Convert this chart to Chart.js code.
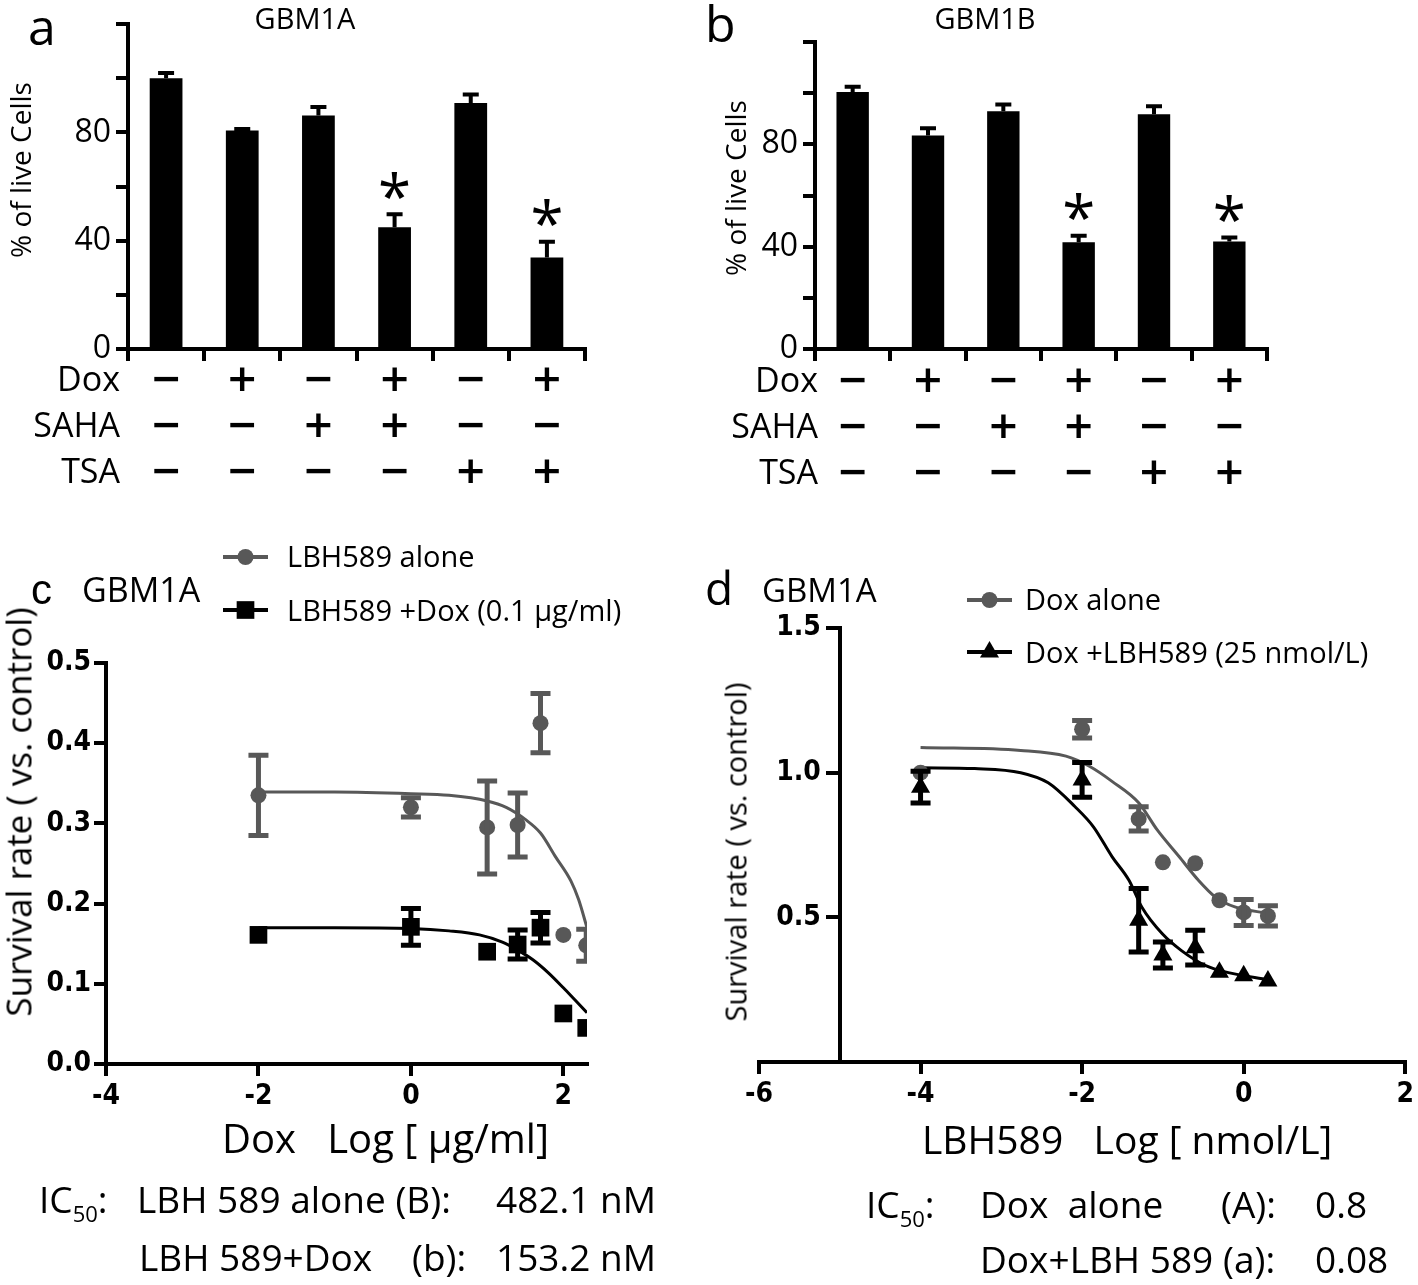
<!DOCTYPE html>
<html>
<head>
<meta charset="utf-8">
<script src="https://cdn.jsdelivr.net/npm/chart.js@4.4.1/dist/chart.umd.min.js"></script>
<style>
  html, body { margin: 0; padding: 0; background: #fff; }
  #page { position: relative; width: 1418px; height: 1285px; overflow: hidden; background: #fff; }
  canvas { position: absolute; left: 0; top: 0; }
  .t { position: absolute; font-family: 'Open Sans', sans-serif; line-height: 1; white-space: pre; color: #000; }
  .sub { font-size: 22px; position: relative; top: 9px; }
</style>
</head>
<body>
<div id="page">
  <canvas id="chartA" width="1418" height="1285"></canvas>
  <canvas id="chartB" width="1418" height="1285"></canvas>
  <canvas id="chartC" width="1418" height="1285"></canvas>
  <canvas id="chartD" width="1418" height="1285"></canvas>
</div>
<script>
// ---- panels a / b : % of live cells ----
const groups = ['G1', 'G2', 'G3', 'G4', 'G5', 'G6'];
const doxOn  = [0, 1, 0, 1, 0, 1];
const sahaOn = [0, 0, 1, 1, 0, 0];
const tsaOn  = [0, 0, 0, 0, 1, 1];
const gbm1aLive = [100, 80.7, 86.3, 45.0, 90.9, 33.8];
const gbm1aErr  = [2.0, 0.6, 3.1, 4.8, 3.1, 5.8];
const gbm1aStar = [0, 0, 0, 1, 0, 1];
const gbm1bLive = [100.5, 83.5, 92.9, 41.7, 91.8, 42.0];
const gbm1bErr  = [2.0, 2.8, 2.7, 2.6, 3.1, 1.6];
const gbm1bStar = [0, 0, 0, 1, 0, 1];
const liveTicks = [0, 20, 40, 60, 80, 100, 120];
const liveTickLabels = ['0', '', '40', '', '80', '', ''];

// ---- panel c : LBH589 dose response ----
const lbhLogDose  = [-2, 0, 1, 1.4, 1.7, 2, 2.3];
const lbhAlone    = [0.335, 0.320, 0.295, 0.298, 0.425, 0.161, 0.148];
const lbhAloneSem = [0.050, 0.012, 0.058, 0.040, 0.037, 0, 0.020];
const lbhDox      = [0.161, 0.171, 0.140, 0.149, 0.170, 0.063, 0.045];
const lbhDoxSem   = [0, 0.023, 0, 0.018, 0.019, 0, 0];
const lbhAloneFitX = [-2, -1, 0, 0.5, 1, 1.25, 1.5, 1.7, 1.9, 2.1, 2.2, 2.31];
const lbhAloneFitY = [0.339, 0.339, 0.337, 0.335, 0.328, 0.320, 0.305, 0.288, 0.258, 0.228, 0.205, 0.170];
const lbhDoxFitX = [-2, -1, 0, 0.5, 0.9, 1.2, 1.4, 1.6, 1.8, 2.0, 2.15, 2.31];
const lbhDoxFitY = [0.170, 0.170, 0.169, 0.166, 0.161, 0.152, 0.142, 0.130, 0.114, 0.095, 0.080, 0.064];
const cXTicks = [-4, -2, 0, 2];
const cXTickLabels = ['-4', '-2', '0', '2'];
const cYTicks = [0, 0.1, 0.2, 0.3, 0.4, 0.5];
const cYTickLabels = ['0.0', '0.1', '0.2', '0.3', '0.4', '0.5'];

// ---- panel d : Dox dose response ----
const doxLogDose  = [-4, -2, -1.3, -1, -0.6, -0.3, 0, 0.3];
const doxAlone    = [1.00, 1.15, 0.84, 0.69, 0.687, 0.559, 0.517, 0.505];
const doxAloneSem = [0, 0.03, 0.042, 0, 0, 0, 0.045, 0.035];
const doxLbh      = [0.95, 0.975, 0.49, 0.37, 0.395, 0.31, 0.298, 0.28];
const doxLbhSem   = [0.055, 0.06, 0.11, 0.045, 0.06, 0, 0, 0];
const doxAloneFitX = [-4, -2.76, -2.2, -1.91, -1.63, -1.3, -1.07, -0.8, -0.56, -0.35, -0.1, 0.3];
const doxAloneFitY = [1.087, 1.077, 1.057, 1.022, 0.970, 0.896, 0.802, 0.710, 0.628, 0.570, 0.535, 0.514];
const doxLbhFitX = [-4, -3.33, -2.76, -2.42, -2.09, -1.86, -1.63, -1.42, -1.26, -1.01, -0.77, -0.47, -0.19, 0.3];
const doxLbhFitY = [1.017, 1.014, 1.000, 0.965, 0.883, 0.813, 0.710, 0.628, 0.535, 0.444, 0.385, 0.333, 0.309, 0.285];
const dXTicks = [-6, -4, -2, 0, 2];
const dXTickLabels = ['-6', '-4', '-2', '0', '2'];
const dYTicks = [0.5, 1.0, 1.5];
const dYTickLabels = ['0.5', '1.0', '1.5'];

const W = 1418, H = 1285;
const GRAY = '#585858';
const tickFont = { family: "'Liberation Sans Narrow', 'Arial Narrow', 'DejaVu Sans Condensed', sans-serif", size: 28, weight: 'bold' };
const zip = (xs, ys) => xs.map((x, i) => ({ x: x, y: ys[i] }));

// error bars from dataset.errors, placed with the chart's own scales
const errorBars = {
  id: 'errorBars',
  afterDatasetsDraw(chart, args, opts) {
    const { ctx, chartArea } = chart;
    const ys = chart.scales.y;
    chart.data.datasets.forEach((ds, di) => {
      if (!ds.errors) return;
      const meta = chart.getDatasetMeta(di);
      ctx.save();
      ctx.beginPath();
      ctx.rect(chartArea.left, 0, chartArea.right - chartArea.left, H);
      ctx.clip();
      ctx.strokeStyle = ds.errorColor || '#000';
      ctx.lineWidth = opts.width;
      ds.errors.forEach((e, i) => {
        if (!e) return;
        const d = ds.data[i];
        const v = typeof d === 'object' ? d.y : d;
        const x = meta.data[i].x;
        const top = ys.getPixelForValue(v + e);
        const bot = ys.getPixelForValue(opts.upperOnly ? v : v - e);
        ctx.beginPath();
        ctx.moveTo(x, top); ctx.lineTo(x, bot);
        ctx.moveTo(x - opts.cap / 2, top); ctx.lineTo(x + opts.cap / 2, top);
        if (!opts.upperOnly) { ctx.moveTo(x - opts.cap / 2, bot); ctx.lineTo(x + opts.cap / 2, bot); }
        ctx.stroke();
      });
      ctx.restore();
    });
  }
};

function centeredText(ctx, s, x, y) {
  const m = ctx.measureText(s);
  ctx.fillText(s, x, y + (m.actualBoundingBoxAscent - m.actualBoundingBoxDescent) / 2);
}

// +/- rows under the bars and significance stars
const signRows = {
  id: 'signRows',
  afterDraw(chart, args, opts) {
    const { ctx } = chart;
    const xs = chart.scales.x, ys = chart.scales.y;
    const ds = chart.data.datasets[0];
    ctx.save();
    ctx.fillStyle = '#000';
    ctx.textAlign = 'center';
    ctx.textBaseline = 'alphabetic';
    ctx.font = 'bold 38px "DejaVu Sans"';
    [doxOn, sahaOn, tsaOn].forEach((row, r) => {
      row.forEach((on, i) => centeredText(ctx, on ? '+' : '\u2212', xs.getPixelForValue(i), opts.rowY[r]));
    });
    ctx.font = '60px "Open Sans"';
    opts.stars.forEach((s, i) => {
      if (!s) return;
      const y = ys.getPixelForValue(ds.data[i] + ds.errors[i]) - 29;
      centeredText(ctx, '*', xs.getPixelForValue(i), y);
    });
    ctx.restore();
  }
};

function drawMarker(ctx, style, r, x, y) {
  ctx.beginPath();
  if (style === 'rect') {
    const s = r * Math.SQRT1_2;
    ctx.rect(x - s, y - s, 2 * s, 2 * s);
  } else if (style === 'triangle') {
    ctx.moveTo(x, y - r);
    ctx.lineTo(x + r * 0.866, y + r / 2);
    ctx.lineTo(x - r * 0.866, y + r / 2);
    ctx.closePath();
  } else {
    ctx.arc(x, y, r, 0, Math.PI * 2);
  }
  ctx.fill();
}

// legend swatches (line + marker) beside the html legend text
const legendMarks = {
  id: 'legendMarks',
  afterDraw(chart, args, opts) {
    if (!opts.items) return;
    const { ctx } = chart;
    opts.items.forEach(it => {
      const ds = chart.data.datasets[it.dataset];
      ctx.save();
      ctx.strokeStyle = ds.borderColor;
      ctx.fillStyle = ds.backgroundColor;
      ctx.lineWidth = 4;
      ctx.beginPath();
      ctx.moveTo(opts.x1, it.y); ctx.lineTo(opts.x2, it.y);
      ctx.stroke();
      drawMarker(ctx, ds.pointStyle, ds.pointRadius, (opts.x1 + opts.x2) / 2, it.y);
      ctx.restore();
    });
  }
};

const axisGrid = { drawOnChartArea: false, color: '#000', lineWidth: 4, tickLength: 12 };
const axisBorder = { color: '#000', width: 4 };

function livePanel(id, area, values, errs, stars, rowY) {
  return new Chart(document.getElementById(id), {
    type: 'bar',
    data: {
      labels: groups,
      datasets: [{ data: values, errors: errs, backgroundColor: '#000', barPercentage: 0.43, categoryPercentage: 1 }]
    },
    options: {
      responsive: false, animation: false, devicePixelRatio: 1,
      layout: { padding: { left: 0, top: area.top, right: W - area.right, bottom: H - area.bottom - 12 } },
      plugins: {
        legend: { display: false }, tooltip: { enabled: false },
        errorBars: { width: 4, cap: 16, upperOnly: true },
        signRows: { rowY: rowY, stars: stars }
      },
      scales: {
        x: {
          grid: Object.assign({ offset: true }, axisGrid), border: axisBorder,
          ticks: { display: false },
          afterFit: s => { s.height = 12; }
        },
        y: {
          min: 0, max: 120,
          afterBuildTicks: s => { s.ticks = liveTicks.map(v => ({ value: v })); },
          ticks: { callback: (v, i) => liveTickLabels[i], color: '#000', padding: 5, font: { family: "'Open Sans', sans-serif", size: 32 } },
          grid: axisGrid, border: axisBorder,
          afterFit: s => { s.width = area.left; }
        }
      }
    },
    plugins: [errorBars, signRows]
  });
}

livePanel('chartA', { left: 128, top: 22, right: 585, bottom: 349 }, gbm1aLive, gbm1aErr, gbm1aStar, [379, 425, 471]);
livePanel('chartB', { left: 815, top: 42, right: 1267, bottom: 349 }, gbm1bLive, gbm1bErr, gbm1bStar, [380, 426, 472]);

function dosePanel(id, area, cfg) {
  return new Chart(document.getElementById(id), {
    type: 'scatter',
    data: {
      datasets: [
        { label: cfg.labels[0], data: zip(cfg.xs, cfg.a), errors: cfg.aErr, errorColor: GRAY, order: 1,
          pointStyle: 'circle', pointRadius: 8, backgroundColor: GRAY, borderColor: GRAY, pointBorderWidth: 0, clip: 0 },
        { label: cfg.labels[1], data: zip(cfg.xs, cfg.b), errors: cfg.bErr, errorColor: '#000', order: 1,
          pointStyle: cfg.bStyle, pointRadius: cfg.bRadius, backgroundColor: '#000', borderColor: '#000', pointBorderWidth: 0, clip: 0 },
        { type: 'line', data: zip(cfg.aFitX, cfg.aFitY), borderColor: GRAY, borderWidth: 3, pointRadius: 0,
          cubicInterpolationMode: 'monotone', order: 2, clip: 0 },
        { type: 'line', data: zip(cfg.bFitX, cfg.bFitY), borderColor: '#000', borderWidth: 3, pointRadius: 0,
          cubicInterpolationMode: 'monotone', order: 2, clip: 0 }
      ]
    },
    options: {
      responsive: false, animation: false, devicePixelRatio: 1,
      layout: { padding: { left: area.left - cfg.yWidth, top: area.top, right: W - area.right, bottom: H - area.bottom - 60 } },
      plugins: {
        legend: { display: false }, tooltip: { enabled: false },
        errorBars: { width: 5, cap: 20, upperOnly: false },
        legendMarks: cfg.legend
      },
      scales: {
        x: {
          type: 'linear', min: cfg.xMin, max: cfg.xMax,
          afterBuildTicks: s => { s.ticks = cfg.xTicks.map(v => ({ value: v })); },
          ticks: { callback: (v, i) => cfg.xTickLabels[i], color: '#000', padding: 4, font: tickFont, maxRotation: 0 },
          grid: axisGrid, border: axisBorder,
          afterFit: s => { s.height = 60; }
        },
        y: {
          type: 'linear', min: cfg.yMin, max: cfg.yMax, position: cfg.yPos,
          afterBuildTicks: s => { s.ticks = cfg.yTicks.map(v => ({ value: v })); },
          // an axis placed at a data value ignores ticks.padding, so trailing spaces keep its labels off the tick marks
          ticks: { callback: (v, i) => cfg.yTickLabels[i] + cfg.yLabelGap, color: '#000', padding: 3, font: tickFont },
          grid: axisGrid, border: axisBorder,
          afterFit: s => { s.width = cfg.yWidth; }
        }
      }
    },
    plugins: [errorBars, legendMarks]
  });
}

dosePanel('chartC', { left: 106, top: 663, right: 587, bottom: 1064 }, {
  labels: ['LBH589 alone', 'LBH589 +Dox (0.1 \u03bcg/ml)'],
  xs: lbhLogDose, a: lbhAlone, aErr: lbhAloneSem, b: lbhDox, bErr: lbhDoxSem,
  aFitX: lbhAloneFitX, aFitY: lbhAloneFitY, bFitX: lbhDoxFitX, bFitY: lbhDoxFitY,
  bStyle: 'rect', bRadius: 12.5,
  xMin: -4, xMax: 2.31, yMin: 0, yMax: 0.5,
  xTicks: cXTicks, xTickLabels: cXTickLabels, yTicks: cYTicks, yTickLabels: cYTickLabels,
  yPos: 'left', yWidth: 100, yLabelGap: '',
  legend: { x1: 223, x2: 268, items: [{ dataset: 0, y: 557 }, { dataset: 1, y: 610 }] }
});

dosePanel('chartD', { left: 759, top: 628, right: 1410, bottom: 1062 }, {
  labels: ['Dox alone', 'Dox +LBH589 (25 nmol/L)'],
  xs: doxLogDose, a: doxAlone, aErr: doxAloneSem, b: doxLbh, bErr: doxLbhSem,
  aFitX: doxAloneFitX, aFitY: doxAloneFitY, bFitX: doxLbhFitX, bFitY: doxLbhFitY,
  bStyle: 'triangle', bRadius: 11,
  xMin: -6, xMax: 2, yMin: 0, yMax: 1.5,
  xTicks: dXTicks, xTickLabels: dXTickLabels, yTicks: dYTicks, yTickLabels: dYTickLabels,
  yPos: { x: -5 }, yWidth: 0, yLabelGap: '\u2002\u2005',
  legend: { x1: 967, x2: 1012, items: [{ dataset: 0, y: 600 }, { dataset: 1, y: 652 }] }
});

// ---- static text ----
const page = document.getElementById('page');
function txt(s, x, base, size, o) {
  o = o || {};
  const d = document.createElement('div');
  d.className = 't';
  d.innerHTML = s;
  d.style.fontSize = size + 'px';
  if (o.family) d.style.fontFamily = o.family;
  d.style.top = (base - (o.asc || 0.888) * size) + 'px';
  if (o.align === 'right') d.style.right = (W - x) + 'px';
  else if (o.align === 'center') { d.style.left = x + 'px'; d.style.transform = 'translateX(-50%)'; }
  else d.style.left = x + 'px';
  page.appendChild(d);
}
function vtxt(s, cx, cy, size) {
  const d = document.createElement('div');
  d.className = 't';
  d.textContent = s;
  d.style.fontSize = size + 'px';
  d.style.left = cx + 'px';
  d.style.top = cy + 'px';
  d.style.transform = 'translate(-50%, -50%) rotate(-90deg)';
  page.appendChild(d);
}

// a
txt('a', 28, 45, 50);
txt('GBM1A', 305, 29, 29, { align: 'center' });
vtxt('% of live Cells', 20, 170, 28);
txt('Dox', 120, 391, 34, { align: 'right' });
txt('SAHA', 120, 437, 34, { align: 'right' });
txt('TSA', 120, 483, 34, { align: 'right' });
// b
txt('b', 705, 42, 50);
txt('GBM1B', 985, 29, 29, { align: 'center' });
vtxt('% of live Cells', 735, 188, 28);
txt('Dox', 818, 392, 34, { align: 'right' });
txt('SAHA', 818, 438, 34, { align: 'right' });
txt('TSA', 818, 484, 34, { align: 'right' });
// c
txt('c', 31, 605, 42, { family: "'Liberation Sans', sans-serif", asc: 0.847 });
txt('GBM1A', 82, 602, 34);
txt('LBH589 alone', 287, 567, 29);
txt('LBH589 +Dox (0.1 \u03bcg/ml)', 287, 621, 29);
vtxt('Survival rate ( vs. control)', 18, 812, 35);
txt('Dox   Log [ \u03bcg/ml]', 222, 1154, 40);
txt('IC<span class="sub">50</span>:', 39, 1213, 37);
txt('LBH 589 alone (B):', 137, 1213, 37);
txt('482.1 nM', 496, 1213, 37);
txt('LBH 589+Dox', 139, 1271, 37);
txt('(b):', 412, 1271, 37);
txt('153.2 nM', 496, 1271, 37);
// d
txt('d', 705, 605, 46);
txt('GBM1A', 762, 602, 33);
txt('Dox alone', 1025, 610, 29);
txt('Dox +LBH589 (25 nmol/L)', 1025, 663, 29);
vtxt('Survival rate ( vs. control)', 735, 852, 29);
txt('LBH589   Log [ nmol/L]', 922, 1154, 39);
txt('IC<span class="sub">50</span>:', 866, 1218, 37);
txt('Dox  alone', 980, 1218, 37);
txt('(A):', 1221, 1218, 37);
txt('0.8', 1315, 1218, 37);
txt('Dox+LBH 589', 980, 1273, 37);
txt('(a):', 1223, 1273, 37);
txt('0.08', 1315, 1273, 37);
</script>
</body>
</html>
